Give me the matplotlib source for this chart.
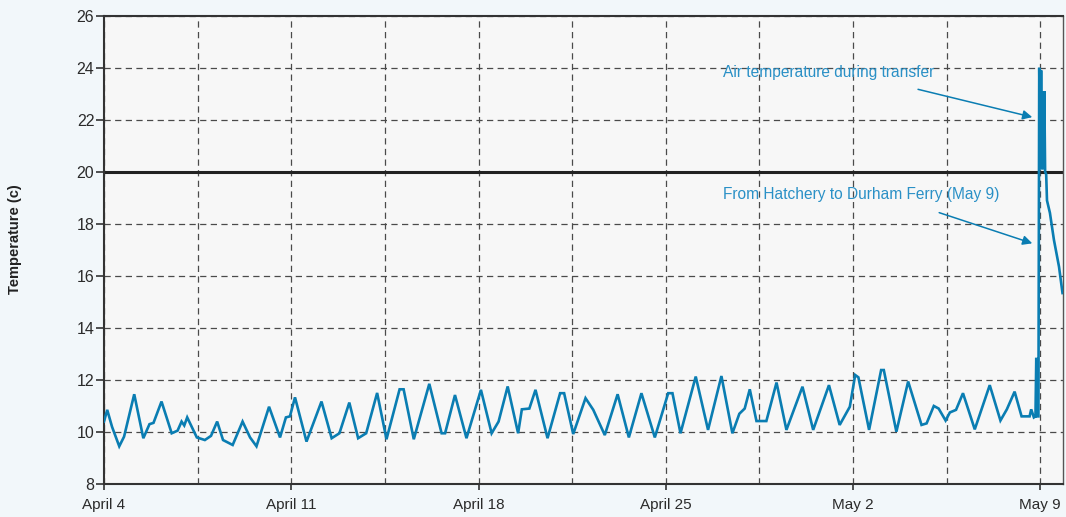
import matplotlib
matplotlib.use("Agg")
import matplotlib.pyplot as plt
from matplotlib.ticker import MultipleLocator

plt.rcParams['font.family'] = ['Liberation Sans', 'DejaVu Sans']

# Water temperature record (days after April 4, degrees C)
days = [
    0.00, 0.12, 0.30, 0.57, 0.75, 1.13, 1.47, 1.70, 1.85, 2.15, 2.53, 2.75,
    2.90, 3.00, 3.11, 3.47, 3.77, 4.00, 4.23, 4.45, 4.81, 5.18, 5.46, 5.70,
    6.17, 6.58, 6.80, 6.95, 7.14, 7.57, 8.13, 8.51, 8.80, 9.17, 9.50, 9.80,
    10.21, 10.56, 11.05, 11.20, 11.58, 12.16, 12.62, 12.75, 13.12, 13.55,
    14.09, 14.49, 14.75, 15.09, 15.48, 15.62, 15.90, 16.13, 16.58, 17.05,
    17.20, 17.54, 18.00, 18.29, 18.72, 19.20, 19.62, 20.09, 20.59, 21.09,
    21.25, 21.55, 22.12, 22.58, 23.08, 23.49, 23.75, 23.95, 24.14, 24.39,
    24.76, 25.14, 25.51, 26.11, 26.51, 27.10, 27.50, 27.88, 28.08, 28.20,
    28.60, 29.05, 29.15, 29.62, 30.06, 30.56, 30.75, 31.02, 31.20, 31.46,
    31.62, 31.85, 32.11, 32.55, 33.11, 33.51, 33.75, 34.04, 34.30, 34.60,
    34.66, 34.76, 34.82, 34.85, 34.88, 34.93, 34.96, 35.00, 35.03, 35.06,
    35.09, 35.12, 35.15, 35.18, 35.22, 35.25, 35.36, 35.51, 35.70, 35.83,
]
temps = [
    10.40, 10.85, 10.20, 9.45, 9.82, 11.45, 9.76, 10.30, 10.35, 11.17, 9.95, 10.05,
    10.40, 10.25, 10.56, 9.79, 9.69, 9.85, 10.40, 9.69, 9.50, 10.40, 9.79, 9.45,
    10.97, 9.79, 10.56, 10.60, 11.33, 9.63, 11.17, 9.76, 9.95, 11.13, 9.76, 9.95,
    11.50, 9.72, 11.64, 11.64, 9.72, 11.85, 9.95, 9.95, 11.42, 9.76,
    11.62, 9.95, 10.40, 11.75, 9.95, 10.87, 10.90, 11.62, 9.76, 11.49,
    11.49, 9.92, 11.30, 10.85, 9.88, 11.45, 9.79, 11.49, 9.79, 11.49,
    11.49, 9.95, 12.13, 10.08, 12.15, 9.95, 10.70, 10.90, 11.64, 10.42,
    10.42, 11.90, 10.08, 11.74, 10.08, 11.80, 10.27, 10.97, 12.19, 12.10,
    10.08, 12.38, 12.38, 10.01, 11.94, 10.27, 10.33, 11.00, 10.90, 10.44,
    10.75, 10.85, 11.49, 10.10, 11.80, 10.44, 10.87, 11.55, 10.60, 10.60,
    10.87, 10.56, 10.60, 12.85, 10.60, 10.60, 24.00, 20.10, 23.90, 20.10,
    23.10, 20.10, 23.10, 20.00, 19.90, 18.90, 18.42, 17.38, 16.35, 15.34,
]

tick_days = [0, 7, 14, 21, 28, 35]
tick_labels = ['April 4', 'April 11', 'April 18', 'April 25', 'May 2', 'May 9']
threshold = 20

line_color = '#0a7db2'
text_color = '#2a90c6'

fig = plt.figure(figsize=(10.66, 5.17), dpi=100, facecolor='#f2f7fa')
ax = fig.add_axes([104 / 1066, 1 - 484 / 517, (1062.5 - 104) / 1066, (484 - 15.7) / 517])
ax.set_facecolor('#f7f7f7')

ax.set_xlim(0, 35.83)
ax.set_ylim(8, 26)
ax.set_xticks(tick_days)
ax.set_xticklabels(tick_labels)
ax.xaxis.set_minor_locator(MultipleLocator(3.5))
ax.yaxis.set_major_locator(MultipleLocator(2))

grid_kw = dict(color='#4a4a4a', linewidth=0.9, linestyle=(0, (5, 3.5)))
ax.grid(True, which='both', axis='x', **grid_kw)
ax.grid(True, which='major', axis='y', **grid_kw)
ax.set_axisbelow(True)

ax.tick_params(axis='x', which='major', length=4, width=1.2, color='#333333',
               pad=6, labelsize=11, labelcolor='#2b2b2b')
ax.tick_params(axis='x', which='minor', length=0)
ax.tick_params(axis='y', length=6, width=1.2, color='#333333', pad=1,
               labelsize=11.5, labelcolor='#2b2b2b')

for side in ['left', 'bottom', 'top']:
    ax.spines[side].set_color('#333333')
    ax.spines[side].set_linewidth(1.5)
ax.spines['right'].set_color('#555555')
ax.spines['right'].set_linewidth(1.0)

ax.axhline(threshold, color='#222222', linewidth=2.2, zorder=2)

ax.plot(days, temps, color=line_color, linewidth=1.9, solid_joinstyle='miter', zorder=3)

arrow_kw = dict(arrowstyle='-|>', color=line_color, lw=1.1, mutation_scale=14,
                shrinkA=0, shrinkB=0)
ax.text(23.13, 23.63, 'Air temperature during transfer', color=text_color,
        fontsize=11.2, va='baseline', ha='left')
ax.annotate('', xy=(34.7, 22.1), xytext=(30.43, 23.17), arrowprops=arrow_kw)
ax.text(23.13, 18.94, 'From Hatchery to Durham Ferry (May 9)', color=text_color,
        fontsize=11.2, va='baseline', ha='left')
ax.annotate('', xy=(34.7, 17.25), xytext=(31.22, 18.43), arrowprops=arrow_kw)

fig.text(15 / 1066, 1 - 239 / 517, 'Temperature (c)', rotation=90, fontsize=10.5,
         fontweight='bold', color='#222222', ha='center', va='center')

fig.savefig('out.png', dpi=100, facecolor=fig.get_facecolor())
